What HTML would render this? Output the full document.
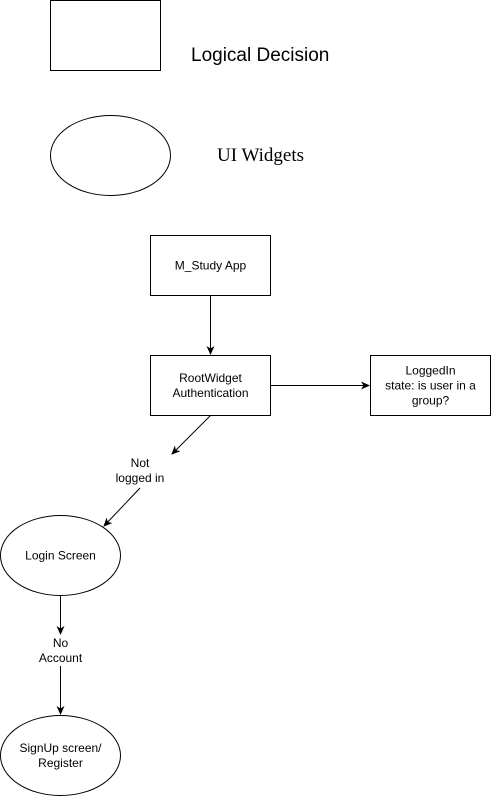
<!DOCTYPE html>
<html><head><style>
html,body{margin:0;padding:0;background:#fff;}
svg{display:block;}
text{font-family:"Liberation Sans",sans-serif;font-size:12px;fill:#000;}
</style></head><body>
<svg width="491" height="796" viewBox="0 0 491 796" xmlns="http://www.w3.org/2000/svg">
<defs>
<marker id="a" markerWidth="10" markerHeight="10" refX="8" refY="5" orient="auto" markerUnits="userSpaceOnUse">
<path d="M0,1 L9,5 L0,9 L2.5,5 Z" fill="#000"/>
</marker>
</defs>
<g fill="#fff" stroke="#000" stroke-width="1">
<rect x="50.5" y="0.5" width="110" height="70"/>
<ellipse cx="110.5" cy="155.5" rx="60" ry="40"/>
<rect x="150.5" y="235.5" width="120" height="60"/>
<rect x="150.5" y="355.5" width="120" height="60"/>
<rect x="370.5" y="355.5" width="120" height="60"/>
<ellipse cx="60.5" cy="555.5" rx="60" ry="40"/>
<ellipse cx="60.5" cy="755.5" rx="60" ry="40"/>
</g>
<g stroke="#000" stroke-width="1" fill="none">
<line x1="210.5" y1="295.5" x2="210.5" y2="354" marker-end="url(#a)"/>
<line x1="270.5" y1="385.5" x2="369" y2="385.5" marker-end="url(#a)"/>
<line x1="210.5" y1="415.5" x2="172" y2="454" marker-end="url(#a)"/>
<line x1="140" y1="488" x2="104" y2="526" marker-end="url(#a)"/>
<line x1="60.5" y1="595.5" x2="60.5" y2="634" marker-end="url(#a)"/>
<line x1="60.5" y1="666" x2="60.5" y2="714" marker-end="url(#a)"/>
</g>
<text x="191" y="61" style="font-size:19px">Logical Decision</text>
<text x="217" y="161" style="font-family:'Liberation Serif',serif;font-size:19px">UI Widgets</text>
<g text-anchor="middle">
<text x="210.5" y="269.5">M_Study App</text>
<text x="210.5" y="382">RootWidget</text>
<text x="210.5" y="397">Authentication</text>
<text x="430.5" y="374.5">LoggedIn</text>
<text x="430.5" y="389.5">state: is user in a</text>
<text x="430.5" y="404.5">group?</text>
<text x="140" y="467">Not</text>
<text x="140" y="482">logged in</text>
<text x="60.5" y="559.5">Login Screen</text>
<text x="60.5" y="647">No</text>
<text x="60.5" y="662">Account</text>
<text x="60.5" y="752">SignUp screen/</text>
<text x="60.5" y="767">Register</text>
</g>
</svg>
</body></html>
